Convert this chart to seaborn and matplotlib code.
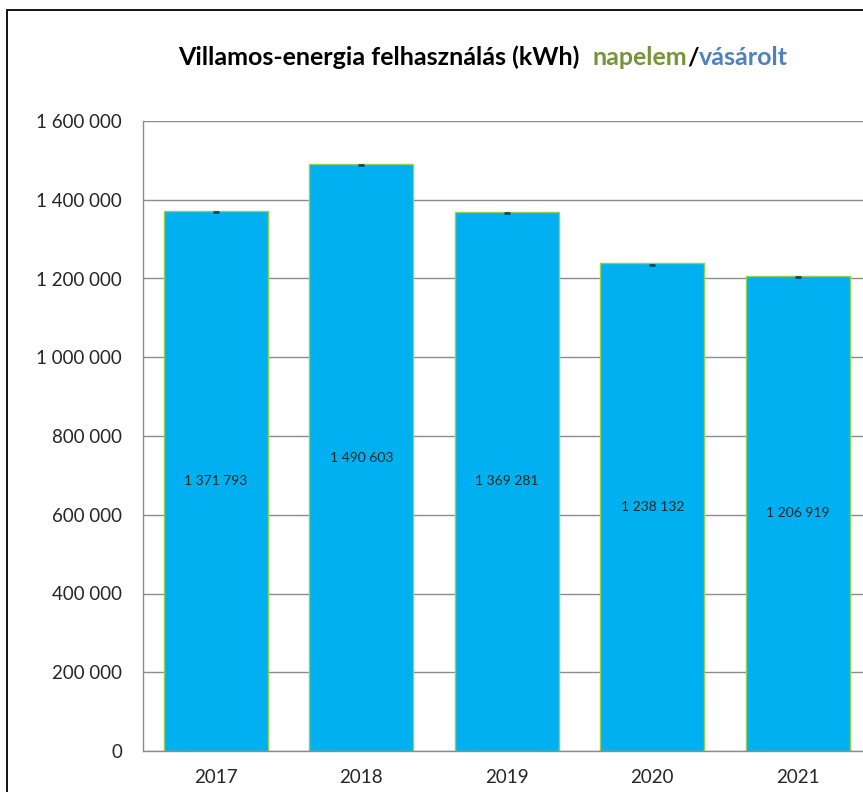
import pandas as pd
import matplotlib.pyplot as plt
import matplotlib.ticker as mticker
import seaborn as sns

years = ["2017", "2018", "2019", "2020", "2021"]
vasarolt = [1371793, 1490603, 1369281, 1238132, 1206919]

df = pd.DataFrame({"ev": years, "kwh": vasarolt})

sns.set_style("white")
plt.rcParams['font.family'] = ['Lato', 'DejaVu Sans']

fig = plt.figure(figsize=(8.63, 7.92), dpi=100)
ax = fig.add_axes([143 / 863, 41 / 792, 727.5 / 863, 630 / 792])

sns.barplot(data=df, x="ev", y="kwh", color="#00B0F0", edgecolor="#92D050",
            linewidth=1, width=0.715, saturation=1, ax=ax, zorder=2)

# apró sötét jel a oszlopok tetején (napelem címke)
ax.scatter(range(len(years)), df["kwh"] - 3000, marker="_", s=20,
           color="#17475A", linewidths=2, zorder=3)

ax.bar_label(ax.containers[0], label_type="center", fontsize=10,
             fmt=lambda v: f"{int(round(v)):,}".replace(",", " "))

ax.set_xlim(-0.5, 4.5)
ax.set_ylim(0, 1600000)
ax.yaxis.set_major_locator(mticker.MultipleLocator(200000))
ax.yaxis.set_major_formatter(mticker.FuncFormatter(lambda v, p: f"{int(v):,}".replace(",", " ")))
ax.yaxis.grid(True, color="#8C8C8C", linewidth=1)
ax.set_axisbelow(True)
ax.set_xlabel("")
ax.set_ylabel("")
ax.tick_params(axis="both", labelsize=13.5, length=0)
ax.tick_params(axis="y", pad=15)
ax.tick_params(axis="x", pad=13)
for s in ["top", "right"]:
    ax.spines[s].set_visible(False)
for s in ["left", "bottom"]:
    ax.spines[s].set_color("#8C8C8C")
    ax.spines[s].set_linewidth(1)

# keret
fig.patches.append(plt.Rectangle((7 / 863, -0.1), 1.2, 1.1 - 10 / 792, transform=fig.transFigure,
                                 fill=False, edgecolor="black", linewidth=1.3))

# többszínű cím
parts = [("Villamos-energia felhasználás (kWh)  ", "black"),
         ("napelem", "#77933C"), ("/", "black"), ("vásárolt", "#4F81BD")]
fig.canvas.draw()
r = fig.canvas.get_renderer()
texts = []
for s, c in parts:
    t = fig.text(0, 1 - 65 / 792, s, color=c, fontsize=18, fontweight="bold", va="baseline")
    texts.append(t)
widths = [t.get_window_extent(r).width for t in texts]
x0 = 483 - sum(widths) / 2
for t, w in zip(texts, widths):
    t.set_x(x0 / 863)
    x0 += w

fig.savefig("out.png", dpi=100)
